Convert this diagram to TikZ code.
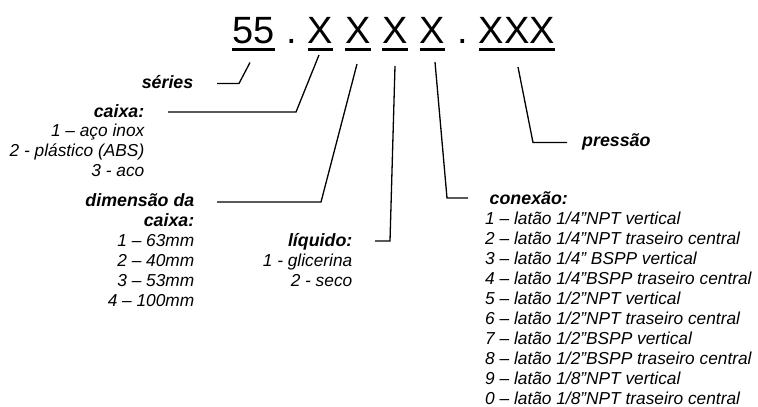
\documentclass[tikz,border=0pt]{standalone}
\usepackage{fontspec}
\setmainfont{Liberation Sans}
\newcommand\inch{{\char34}}
\begin{document}
\begin{tikzpicture}[x=1pt,y=-1pt,
  code/.style={inner sep=0pt, anchor=base, font=\fontsize{38}{40}\selectfont},
  lbl/.style={inner sep=0pt, font=\fontsize{17.8}{20}\selectfont\bfseries\itshape},
  itm/.style={inner sep=0pt, font=\fontsize{17.3}{20}\selectfont\itshape},
  wire/.style={line width=1.3pt, line join=miter},
  uline/.style={line width=2.6pt}]
\useasboundingbox (0,0) rectangle (758,407);

% code pattern 55.XXXX.XXX
\node[code] (d55) at (253.5,43.5) {55};
\node[code] (dot1) at (292,43.5) {.};
\node[code] (x1) at (320.5,43.5) {X};
\node[code] (x2) at (358,43.5) {X};
\node[code] (x3) at (395,43.5) {X};
\node[code] (x4) at (432.5,43.5) {X};
\node[code] (dot2) at (463,43.5) {.};
\node[code] (x5) at (517,43.5) {XXX};
\foreach \n in {d55,x1,x2,x3,x4,x5}
  \draw[uline] ([yshift=-5.8pt]\n.base west) -- ([yshift=-5.8pt]\n.base east);

% labels on the left
\node[lbl, anchor=base east] (series) at (193.5,88) {séries};

\node[lbl, anchor=base east] (caixa) at (144.5,117) {caixa:};
\foreach \t [count=\i] in {1 – aço inox, 2 - plástico (ABS), 3 - aco}
  \node[itm, anchor=base east] (caixa\i) at (144.5,117+19.7*\i) {\t};

\node[lbl, anchor=base east] (dim) at (194.5,206.5) {dimensão da};
\node[lbl, anchor=base east] (dimb) at (194.5,226) {caixa:};
\foreach \t [count=\i] in {1 – 63mm, 2 – 40mm, 3 – 53mm, 4 – 100mm}
  \node[itm, anchor=base east] (dim\i) at (194.5,226+20*\i) {\t};

\node[lbl, anchor=base east] (liq) at (352.5,246) {líquido:};
\foreach \t [count=\i] in {1 - glicerina, 2 - seco}
  \node[itm, anchor=base east] (liq\i) at (352.5,246+20*\i) {\t};

% labels on the right
\node[lbl, anchor=base west] (con) at (489.5,204) {conexão:};
\foreach \t [count=\i] in {
  1 – latão 1/4\inch NPT vertical,
  2 – latão 1/4\inch NPT traseiro central,
  3 – latão 1/4\inch{} BSPP vertical,
  4 – latão 1/4\inch BSPP traseiro central,
  5 – latão 1/2\inch NPT vertical,
  6 – latão 1/2\inch NPT traseiro central,
  7 – latão 1/2\inch BSPP vertical,
  8 – latão 1/2\inch BSPP traseiro central,
  9 – latão 1/8\inch NPT vertical,
  0 – latão 1/8\inch NPT traseiro central}
  \node[itm, anchor=base west] (con\i) at (485,204+20*\i) {\t};

\node[lbl, anchor=base west] (pres) at (582,146) {pressão};

% leader lines
\coordinate (sA) at (250,62.5);  \coordinate (sB) at (239,83.5);  \coordinate (sC) at (217,83.5);
\coordinate (cA) at (319,55);    \coordinate (cB) at (296,112);   \coordinate (cC) at (168,112);
\coordinate (dA) at (357,64);    \coordinate (dB) at (321,202);   \coordinate (dC) at (217,202);
\coordinate (lA) at (395,66);    \coordinate (lB) at (390,241);   \coordinate (lC) at (375,241);
\coordinate (nA) at (435,62);    \coordinate (nB) at (447,198);   \coordinate (nC) at (468,198);
\coordinate (pA) at (518,67);    \coordinate (pB) at (533,142.5); \coordinate (pC) at (567,142.5);
\foreach \k in {s,c,d,l,n,p}
  \draw[wire] (\k A) -- (\k B) -- (\k C);
\end{tikzpicture}
\end{document}
